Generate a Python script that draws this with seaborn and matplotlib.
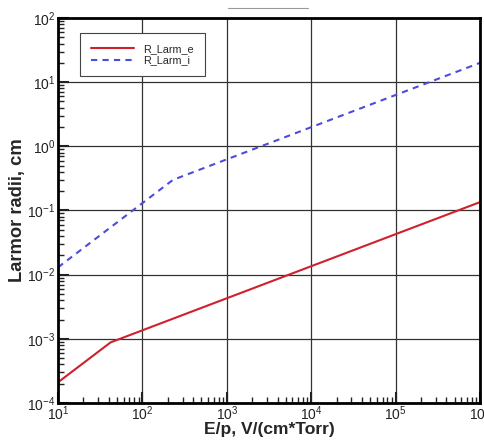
import pandas as pd
import matplotlib.pyplot as plt
import matplotlib.lines as mlines
import seaborn as sns

# Valores (vértices das curvas em escala log-log)
ep_e = [10, 42, 1e6]
r_larm_e = [2.1e-4, 8.8e-4, 0.135]
ep_i = [10, 230, 1e6]
r_larm_i = [0.013, 0.30, 20.0]

df = pd.DataFrame({
    'ep': ep_e + ep_i,
    'r': r_larm_e + r_larm_i,
    'serie': ['R_Larm_e'] * len(ep_e) + ['R_Larm_i'] * len(ep_i),
})

sns.set_style("ticks")
plt.rcParams['font.family'] = ['Liberation Sans', 'DejaVu Sans']
plt.rcParams['axes.unicode_minus'] = False

fig = plt.figure(figsize=(4.85, 4.41), dpi=100)
ax = fig.add_axes([0.1196, 0.0862, 0.8701, 0.8730])

cores = {'R_Larm_e': '#d0202c', 'R_Larm_i': '#4c4cdc'}
sns.lineplot(data=df, x='ep', y='r', hue='serie', style='serie',
             palette=cores, dashes={'R_Larm_e': '', 'R_Larm_i': (3, 2.5)},
             linewidth=1.5, ax=ax, legend=False)

ax.set_xscale('log')
ax.set_yscale('log')
ax.set_xlim(10, 1e6)
ax.set_ylim(1e-4, 1e2)

ax.grid(True, which='major', color='#333333', linewidth=0.9)
ax.tick_params(which='major', direction='in', length=8, width=1.5, labelsize=10,
               colors='#222222', pad=2)
ax.tick_params(axis='x', which='major', pad=1)
ax.tick_params(which='minor', direction='in', length=4, width=1, colors='#222222')
ax.tick_params(top=False, right=False)
for s in ax.spines.values():
    s.set_linewidth(2)
    s.set_color('black')

ax.set_xlabel('E/p, V/(cm*Torr)', fontsize=12.6, fontweight='bold', labelpad=-1)
ax.set_ylabel('Larmor radii, cm', fontsize=13.2, fontweight='bold', labelpad=1)

h_e = mlines.Line2D([], [], color=cores['R_Larm_e'], linewidth=1.5)
h_i = mlines.Line2D([], [], color=cores['R_Larm_i'], linewidth=1.5, dashes=(3, 2.5))
leg = ax.legend([h_e, h_i], ['R_Larm_e', 'R_Larm_i'], loc='upper left',
                bbox_to_anchor=(0.040, 0.975), fontsize=7.8, frameon=True,
                fancybox=False, edgecolor='#444444', handlelength=4,
                borderpad=1.0, labelspacing=0.15, framealpha=1)
leg.get_frame().set_linewidth(0.8)

# traço fino acima do gráfico, como no original
fig.add_artist(mlines.Line2D([228 / 485, 308 / 485], [1 - 8 / 441, 1 - 8 / 441],
                             color='#999999', linewidth=0.8))

fig.savefig('out.png', dpi=100)
